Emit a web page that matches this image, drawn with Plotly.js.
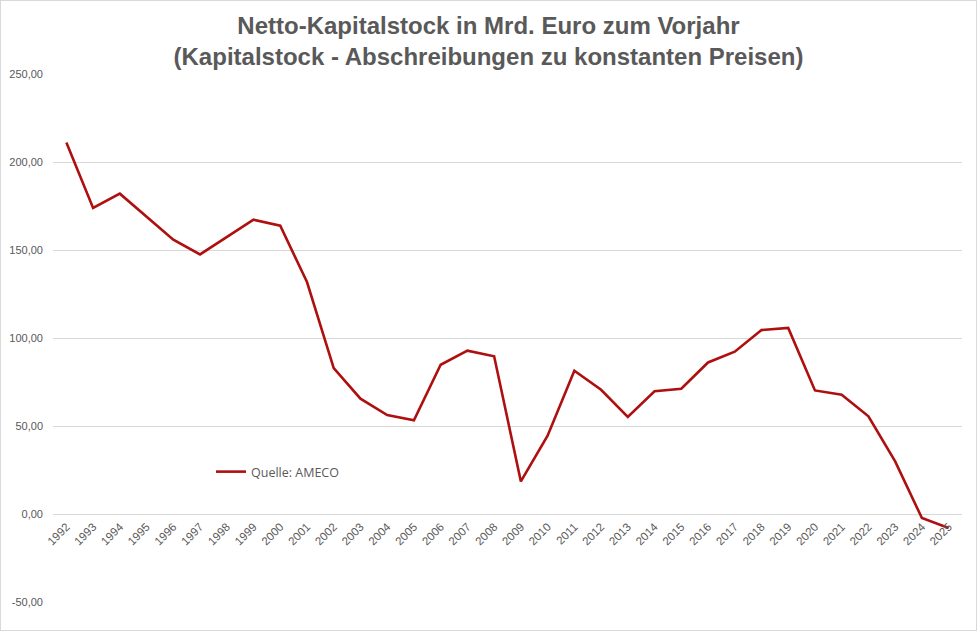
<!DOCTYPE html>
<html>
<head>
<meta charset="utf-8">
<script src="https://cdn.plot.ly/plotly-3.0.1.min.js"></script>
<style>
  html, body { margin: 0; padding: 0; background: #fff; }
  #chart { width: 977px; height: 631px; box-sizing: border-box; border: 1px solid #d9d9d9; }
</style>
</head>
<body>
<div id="chart"></div>
<script>
// Jahre (Kategorien)
const years = [
  '1992', '1993', '1994', '1995', '1996', '1997', '1998', '1999', '2000', '2001',
  '2002', '2003', '2004', '2005', '2006', '2007', '2008', '2009', '2010', '2011',
  '2012', '2013', '2014', '2015', '2016', '2017', '2018', '2019', '2020', '2021',
  '2022', '2023', '2024', '2025',
];

// Netto-Kapitalstock, Veränderung zum Vorjahr in Mrd. Euro
const nettoKapitalstock = [
  211.1, 173.9, 182.0, 168.8, 155.9, 147.5, 157.3, 167.2, 163.8, 131.8,
  82.9, 65.5, 56.2, 53.2, 84.8, 92.8, 89.6, 18.5, 44.5, 81.4,
  70.6, 55.1, 69.7, 71.2, 86.1, 92.2, 104.5, 105.7, 70.2, 67.8,
  55.5, 29.9, -2.3, -8.0,
];

// Achsenbeschriftung y
const yTickVals = [-50, 0, 50, 100, 150, 200, 250];
const yTickText = ['-50,00', '0,00', '50,00', '100,00', '150,00', '200,00', '250,00'];

const grey = '#595959';
const gridGrey = '#d9d9d9';

const data = [
  {
    x: years,
    y: nettoKapitalstock,
    name: 'Quelle: AMECO',
    mode: 'lines',
    type: 'scatter',
    line: { color: '#ae0f0f', width: 2.6 },
    hoverinfo: 'x+y',
  },
];

const layout = {
  width: 975,
  height: 629,
  margin: { l: 52, r: 14, t: 73, b: 28 },
  paper_bgcolor: '#fff',
  plot_bgcolor: '#fff',
  font: { family: 'Liberation Sans, Arial, sans-serif', color: grey },
  title: {
    text: 'Netto-Kapitalstock in Mrd. Euro zum Vorjahr<br>(Kapitalstock - Abschreibungen zu konstanten Preisen)',
    x: 0.5,
    xanchor: 'center',
    y: 1 - 33 / 629,
    yanchor: 'middle',
    font: { family: 'Liberation Sans, Arial, sans-serif', size: 24, weight: 700, color: grey },
  },
  xaxis: {
    type: 'category',
    range: [-0.5, 33.5],
    anchor: 'free',
    position: 88 / 528,
    tickangle: -45,
    ticks: '',
    ticklabelstandoff: 3,
    showgrid: false,
    showline: false,
    zeroline: false,
    tickfont: { size: 11.5, color: grey },
    fixedrange: true,
  },
  yaxis: {
    range: [-50, 250],
    tickvals: yTickVals,
    ticktext: yTickText,
    ticks: '',
    ticklabelstandoff: 9,
    showgrid: true,
    gridcolor: gridGrey,
    gridwidth: 1,
    zeroline: true,
    zerolinecolor: gridGrey,
    zerolinewidth: 1,
    showline: false,
    tickfont: { size: 11, color: grey },
    fixedrange: true,
  },
  showlegend: true,
  legend: {
    x: 158 / 909,
    xanchor: 'left',
    y: (602 - 472) / 528,
    yanchor: 'middle',
    bgcolor: 'rgba(0,0,0,0)',
    font: { family: 'Open Sans, sans-serif', size: 12.5, color: grey },
    itemwidth: 30,
  },
};

Plotly.newPlot('chart', data, layout, { displayModeBar: false, responsive: false });
</script>
</body>
</html>
